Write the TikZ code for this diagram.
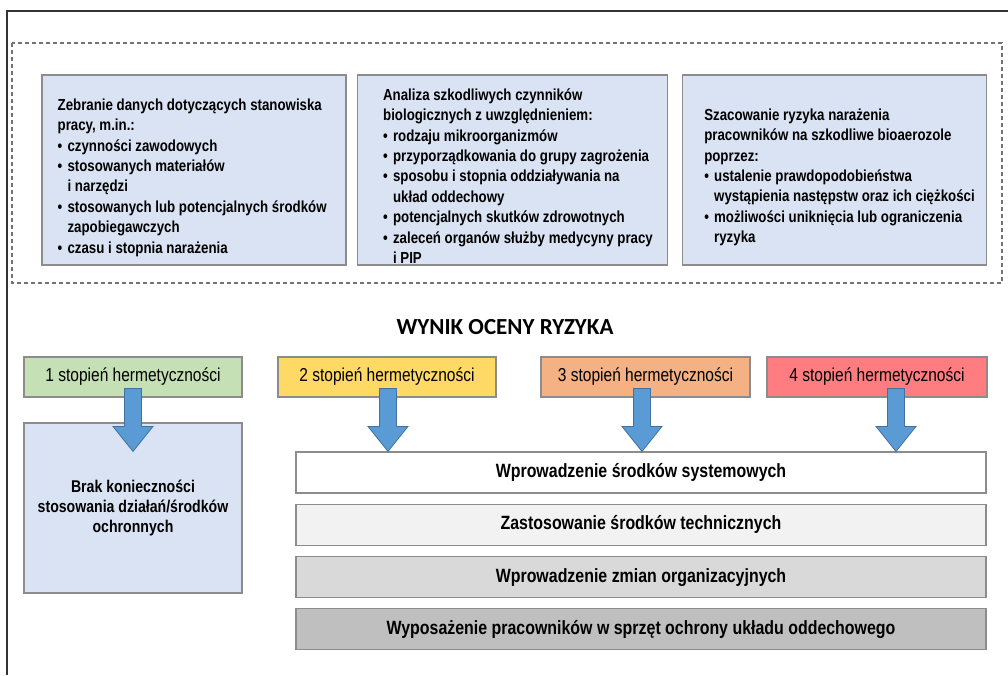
\documentclass[tikz,border=0pt]{standalone}
\usepackage{fontspec}
\setmainfont[FakeStretch=0.83]{Liberation Sans}
\newfontfamily\titlefont{Carlito}
\usetikzlibrary{calc,positioning}
\definecolor{jasnoniebieski}{HTML}{DAE3F3}
\definecolor{obrys}{HTML}{8C8C8C}
\definecolor{zielony}{HTML}{C5E0B4}
\definecolor{zolty}{HTML}{FFD966}
\definecolor{pomaranczowy}{HTML}{F4B183}
\definecolor{czerwony}{HTML}{FF7C80}
\definecolor{strzalkafill}{HTML}{5B9BD5}
\definecolor{strzalkadraw}{HTML}{41719C}
\newcommand{\pkt}{\par\hangindent=0.62em\hangafter=1\noindent\makebox[0.62em][l]{•}}
\tikzstyle{ramka} = [rectangle, minimum height=190pt, fill=jasnoniebieski,
draw=obrys, line width=1.1pt]
\tikzstyle{opis} = [anchor=north west, inner sep=0pt, text width=300pt,
align=flush left, font=\fontsize{16}{20.4}\selectfont\bfseries]
\tikzstyle{stopien} = [rectangle, minimum height=40pt, text centered,
draw=obrys, line width=1.1pt, font=\fontsize{18.7}{22}\selectfont]
\tikzstyle{brak} = [rectangle, minimum width=218pt, minimum height=170pt,
text width=205pt, align=flush center, fill=jasnoniebieski, draw=obrys, line width=1.1pt,
font=\fontsize{17}{20.4}\selectfont\bfseries]
\tikzstyle{pasek} = [rectangle, minimum width=690pt, minimum height=41pt,
text centered, draw=obrys, line width=1.1pt, font=\fontsize{19.2}{22}\selectfont\bfseries]
\tikzstyle{blokstrz} = [fill=strzalkafill, draw=strzalkadraw, line width=0.8pt, line join=miter]
\newcommand{\strzalka}[2]{%
\draw[blokstrz] ($(#1)+(-8.5,0)$) -- ($(#2)+(-8.5,25)$) -- ($(#2)+(-20,25)$)
-- (#2) -- ($(#2)+(20,25)$) -- ($(#2)+(8.5,25)$) -- ($(#1)+(8.5,0)$) -- cycle;}

\begin{document}
\begin{tikzpicture}[x=1pt, y=1pt, node distance=52.3pt]
\useasboundingbox (0,0) rectangle (1008,-675);
% frame and dashed area
\draw[line width=2pt, black!80] (7,-675) -- (7,-11) -- (1008,-11);
\draw[dash pattern=on 4pt off 3pt, line width=1.2pt, black!55] (12,-43) rectangle (1002,-283);
%Calling the blocks
\node (ramka1) [ramka, minimum width=304pt] at (194,-170) {};
\node (ramka2) [ramka, minimum width=310pt, right of=ramka1, xshift=266.2pt] {};
\node (ramka3) [ramka, minimum width=304pt, right of=ramka2, xshift=269.8pt] {};
\node (opis1) [opis] at ($(ramka1.north west)+(16,-24)$) {Zebranie danych dotyczących stanowiska\newline pracy, m.in.:
\pkt czynności zawodowych
\pkt stosowanych materiałów\newline i narzędzi
\pkt stosowanych lub potencjalnych środków\newline zapobiegawczych
\pkt czasu i stopnia narażenia\par};
\node (opis2) [opis] at ($(ramka2.north west)+(26,-14)$) {Analiza szkodliwych czynników\newline biologicznych z uwzględnieniem:
\pkt rodzaju mikroorganizmów
\pkt przyporządkowania do grupy zagrożenia
\pkt sposobu i stopnia oddziaływania na\newline układ oddechowy
\pkt potencjalnych skutków zdrowotnych
\pkt zaleceń organów służby medycyny pracy\newline i PIP\par};
\node (opis3) [opis] at ($(ramka3.north west)+(22,-34)$) {Szacowanie ryzyka narażenia\newline pracowników na szkodliwe bioaerozole\newline poprzez:
\pkt ustalenie prawdopodobieństwa\newline wystąpienia następstw oraz ich ciężkości
\pkt możliwości uniknięcia lub ograniczenia\newline ryzyka\par};

\node (wynik) at (505,-327) {\titlefont\fontsize{23}{27}\selectfont\bfseries WYNIK OCENY RYZYKA};

\node (st1) [stopien, fill=zielony, minimum width=218pt] at (133,-377) {1 stopień hermetyczności};
\node (st2) [stopien, fill=zolty, minimum width=218pt] at (387,-377) {2 stopień hermetyczności};
\node (st3) [stopien, fill=pomaranczowy, minimum width=209pt] at (645.5,-377) {3 stopień hermetyczności};
\node (st4) [stopien, fill=czerwony, minimum width=220pt] at (877,-377) {4 stopień hermetyczności};

\node (brak1) [brak] at (133,-508) {Brak konieczności\\ stosowania działań/środków\\ ochronnych};

\node (pasek1) [pasek, fill=white] at (641,-472.5) {Wprowadzenie środków systemowych};
\node (pasek2) [pasek, fill=black!5, below of=pasek1] {Zastosowanie środków technicznych};
\node (pasek3) [pasek, fill=black!15, below of=pasek2] {Wprowadzenie zmian organizacyjnych};
\node (pasek4) [pasek, fill=black!25, below of=pasek3] {Wyposażenie pracowników w sprzęt ochrony układu oddechowego};

% Drawing the arrows between blocks
\coordinate (s1) at ($(st1.south)+(0,9)$);
\coordinate (s2) at ($(st2.south)+(1,9)$);
\coordinate (s3) at ($(st3.south)+(-3.5,9)$);
\coordinate (s4) at ($(st4.south)+(19,9)$);
\coordinate (k1) at ($(s1|-brak1.north)+(0,-29)$);
\coordinate (k2) at (s2|-pasek1.north);
\coordinate (k3) at (s3|-pasek1.north);
\coordinate (k4) at (s4|-pasek1.north);
\strzalka{s1}{k1}
\strzalka{s2}{k2}
\strzalka{s3}{k3}
\strzalka{s4}{k4}
\end{tikzpicture}
\end{document}
